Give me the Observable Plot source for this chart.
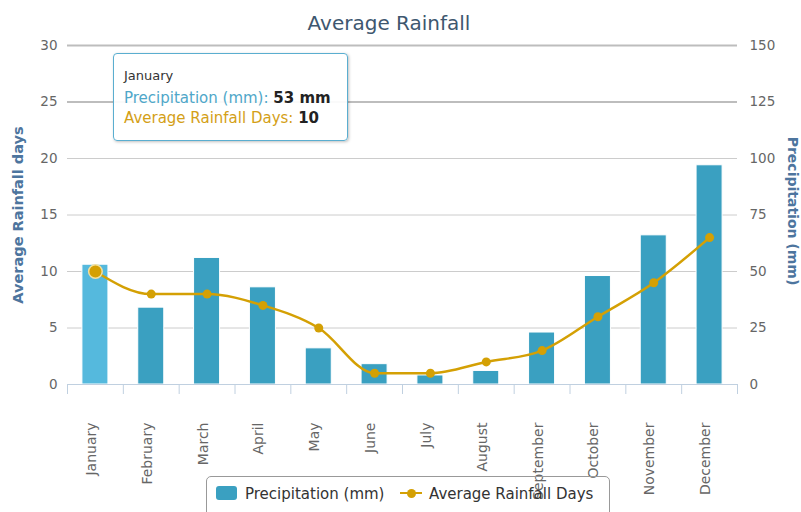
<!DOCTYPE html>
<html>
<head>
<meta charset="utf-8">
<script src="https://cdn.jsdelivr.net/npm/d3@7"></script>
<script src="https://cdn.jsdelivr.net/npm/@observablehq/plot@0.6"></script>
<style>
  html, body { margin: 0; padding: 0; background: #fff; }
  #wrap { position: relative; width: 801px; height: 512px; overflow: hidden; font-family: "DejaVu Sans", sans-serif; }
  #title { position: absolute; left: 0; top: 11px; width: 778px; text-align: center; font-size: 20px; line-height: 24px; color: #3E576F; }
  #tooltip { position: absolute; left: 113px; top: 53px; width: 235px; height: 88px; box-sizing: border-box;
    border: 1px solid #5aaed0; border-radius: 4px; background: rgba(255,255,255,0.92);
    box-shadow: 1px 1px 3px rgba(0,0,0,0.25); padding: 14px 0 0 10px; color: #333; }
  #tooltip .hd { font-size: 13px; line-height: 16px; }
  #tooltip .ln { font-size: 15px; line-height: 20px; white-space: nowrap; }
  #tooltip .ln1 { margin-top: 4px; }
  #tooltip b { color: #222; }
  #legend { position: absolute; left: 206px; top: 476px; width: 404px; height: 50px; box-sizing: border-box;
    border: 1px solid #999; border-radius: 5px; background: transparent; }
  #legend .t { position: absolute; top: 8px; font-size: 15px; line-height: 18px; color: #333; white-space: nowrap; }
</style>
</head>
<body>
<div id="wrap">
  <div id="chart"></div>
  <div id="title"></div>
  <div id="legend"></div>
  <div id="tooltip"></div>
</div>
<script>
const chartTitle = "Average Rainfall";
const months = ["January", "February", "March", "April", "May", "June", "July", "August", "September", "October", "November", "December"];
const precipitation = [53, 34, 56, 43, 16, 9, 4, 6, 23, 48, 66, 97];
const rainDays = [10, 8, 8, 7, 5, 1, 1, 2, 3, 6, 9, 13];
const dayTicks = [0, 5, 10, 15, 20, 25, 30];
const precipPerDay = 5; // right axis 0-150 maps to left axis 0-30
const seriesNames = ["Precipitation (mm)", "Average Rainfall Days"];
const axisTitles = ["Average Rainfall days", "Precipitation (mm)"];

const barColor = "#3aa0c1";
const barHover = "#55b9dd";
const lineColor = "#d4a004";

const data = months.map((m, i) => ({month: m, precip: precipitation[i], days: rainDays[i]}));

const W = 801, H = 512, mL = 67, mR = 64, mT = 45, mB = 128;
const step = (W - mL - mR) / months.length;

const chart = Plot.plot({
  width: W, height: H,
  marginLeft: mL, marginRight: mR, marginTop: mT, marginBottom: mB,
  style: {fontFamily: "DejaVu Sans, sans-serif", fontSize: "13.5px", color: "#666", background: "white", overflow: "visible"},
  x: {domain: months, paddingInner: 0.534, paddingOuter: 0.267, round: false, axis: null},
  y: {domain: [0, 30], axis: null},
  marks: [
    Plot.ruleY(dayTicks.filter(d => d > 0 && d < 25), {stroke: "#cccccc", strokeWidth: 1}),
    Plot.ruleY(dayTicks.filter(d => d >= 25), {stroke: "#bdbdbd", strokeWidth: 2}),
    Plot.axisY({anchor: "left", ticks: dayTicks, tickSize: 0, tickPadding: 10, label: null}),
    Plot.axisY({anchor: "right", ticks: dayTicks, tickSize: 0, tickPadding: 12, tickFormat: d => d * precipPerDay, label: null}),
    Plot.barY(data, {x: "month", y: d => d.precip / precipPerDay,
      fill: d => d.month === months[0] ? barHover : barColor, stroke: "white", strokeWidth: 1}),
    Plot.ruleY([0], {stroke: "#C0D0E0"}),
    Plot.axisX({ticks: months, tickSize: 10, tickFormat: () => "", dx: -step / 2, stroke: "#C0D0E0", label: null}),
    Plot.axisX({ticks: [months[months.length - 1]], tickSize: 10, tickFormat: () => "", dx: step / 2, stroke: "#C0D0E0", label: null}),
    Plot.text(data, {x: "month", y: 0, text: "month", rotate: -90, textAnchor: "end", lineAnchor: "middle",
      dy: 38, dx: -4, fontSize: 14, fill: "#666"}),
    Plot.line(data, {x: "month", y: "days", curve: "monotone-x", stroke: lineColor, strokeWidth: 2.5}),
    Plot.dot(data.slice(1), {x: "month", y: "days", r: 4.5, fill: lineColor, stroke: "none"}),
    Plot.dot(data.slice(0, 1), {x: "month", y: "days", r: 6.8, fill: lineColor, stroke: "#f2dfa0", strokeWidth: 1.5}),
    Plot.text([axisTitles[0]], {frameAnchor: "left", text: d => d, dx: -49, rotate: -90, textAnchor: "middle", lineAnchor: "middle",
      fontWeight: "bold", fontSize: 14.5, fill: "#4d759e"}),
    Plot.text([axisTitles[1]], {frameAnchor: "right", text: d => d, dx: 55, dy: -4, rotate: 90, textAnchor: "middle", lineAnchor: "middle",
      fontWeight: "bold", fontSize: 14, fill: "#4d759e"})
  ]
});
document.getElementById("chart").appendChild(chart);

document.getElementById("title").textContent = chartTitle;

// Legend
const legend = document.getElementById("legend");
legend.innerHTML =
  `<div style="position:absolute;left:9px;top:9px;width:21px;height:14px;border-radius:3px;background:${barColor}"></div>` +
  `<div class="t" style="left:38px">${seriesNames[0]}</div>` +
  `<div style="position:absolute;left:193px;top:14.75px;width:22px;height:2.5px;background:${lineColor}"></div>` +
  `<div style="position:absolute;left:199.5px;top:11.5px;width:9px;height:9px;border-radius:50%;background:${lineColor}"></div>` +
  `<div class="t" style="left:222px">${seriesNames[1]}</div>`;

// Tooltip (January hovered)
const tip = document.getElementById("tooltip");
tip.innerHTML =
  `<div class="hd">${months[0]}</div>` +
  `<div class="ln ln1"><span style="color:#4fa7c9">${seriesNames[0]}: </span><b>${precipitation[0]} mm</b></div>` +
  `<div class="ln"><span style="color:#d4a017">${seriesNames[1]}: </span><b>${rainDays[0]}</b></div>`;
</script>
</body>
</html>
